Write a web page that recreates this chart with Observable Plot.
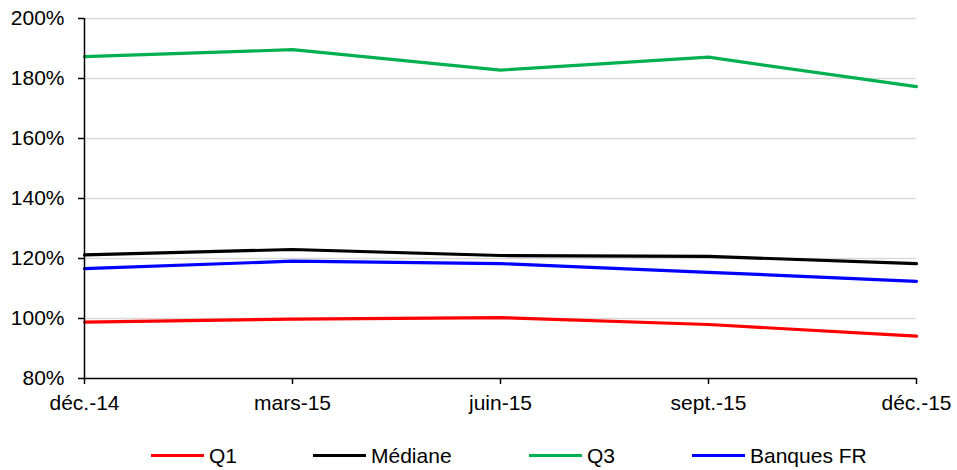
<!DOCTYPE html>
<html>
<head>
<meta charset="utf-8">
<script src="https://cdn.jsdelivr.net/npm/d3@7"></script>
<script src="https://cdn.jsdelivr.net/npm/@observablehq/plot@0.6"></script>
<style>
  html, body { margin: 0; padding: 0; background: #fff; }
  body { width: 957px; height: 470px; overflow: hidden; font-family: "Liberation Sans", Arial, sans-serif; }
  #chart svg { display: block; }
  #legend { position: relative; height: 50px; }
  .item { position: absolute; top: 25px; display: flex; align-items: center; font-size: 21px; color: #000; line-height: 21px; }
  .swatch { width: 53px; height: 3px; margin-right: 5px; }
</style>
</head>
<body>
<div id="chart"></div>
<div id="legend"></div>
<script>
// Quarter-end dates
const periods = ["déc.-14", "mars-15", "juin-15", "sept.-15", "déc.-15"];

// Ratio values (%) per quarter
const q1      = [98.8, 99.8, 100.3, 98.0, 94.1];
const mediane = [121.2, 123.0, 121.0, 120.7, 118.3];
const q3      = [187.3, 189.6, 182.8, 187.1, 177.3];
const banques = [116.6, 119.1, 118.3, 115.4, 112.4];

const seriesNames  = ["Q1", "Médiane", "Q3", "Banques FR"];
const seriesValues = [q1, mediane, q3, banques];
const seriesColors = ["#ff0000", "#000000", "#00b050", "#0000ff"];

// Y-axis ticks
const yTicks = [0.8, 1.0, 1.2, 1.4, 1.6, 1.8, 2.0];

const rows = seriesNames.flatMap((name, i) =>
  periods.map((p, j) => ({ series: name, period: p, value: seriesValues[i][j] / 100 }))
);

const pct = d3.format(".0%");

const chart = Plot.plot({
  width: 957,
  height: 420,
  marginTop: 18,
  marginRight: 41,
  marginBottom: 42,
  marginLeft: 84,
  style: { fontFamily: "'Liberation Sans', Arial, sans-serif", fontSize: "21px", color: "#000", background: "#fff", overflow: "visible" },
  x: { type: "point", domain: periods, padding: 0, label: null },
  y: { domain: [0.8, 2.0], ticks: yTicks, label: null },
  color: { domain: seriesNames, range: seriesColors },
  marks: [
    Plot.gridY(yTicks.slice(1), { stroke: "#d9d9d9", strokeOpacity: 1, strokeWidth: 1.5 }),
    Plot.lineY(rows, { x: "period", y: "value", z: "series", stroke: "series", strokeWidth: 3.2 }),
    Plot.ruleY([0.8], { stroke: "#000", strokeWidth: 1.5 }),
    Plot.ruleX([periods[0]], { stroke: "#000", strokeWidth: 1.5 }),
    Plot.axisY(yTicks, { tickSize: 6, tickPadding: 14, tickFormat: pct, stroke: "#000", strokeWidth: 1.5, fontSize: 21 }),
    Plot.axisX(periods, { tickSize: 6, tickPadding: 11, stroke: "#000", strokeWidth: 1.5, fontSize: 21 })
  ]
});
document.getElementById("chart").appendChild(chart);

// Legend row below the plot
const legend = document.getElementById("legend");
const lefts = [151, 313, 529, 692];
seriesNames.forEach((name, i) => {
  const item = document.createElement("div");
  item.className = "item";
  item.style.left = lefts[i] + "px";
  const sw = document.createElement("span");
  sw.className = "swatch";
  sw.style.background = seriesColors[i];
  const label = document.createElement("span");
  label.textContent = name;
  item.appendChild(sw);
  item.appendChild(label);
  legend.appendChild(item);
});
</script>
</body>
</html>
